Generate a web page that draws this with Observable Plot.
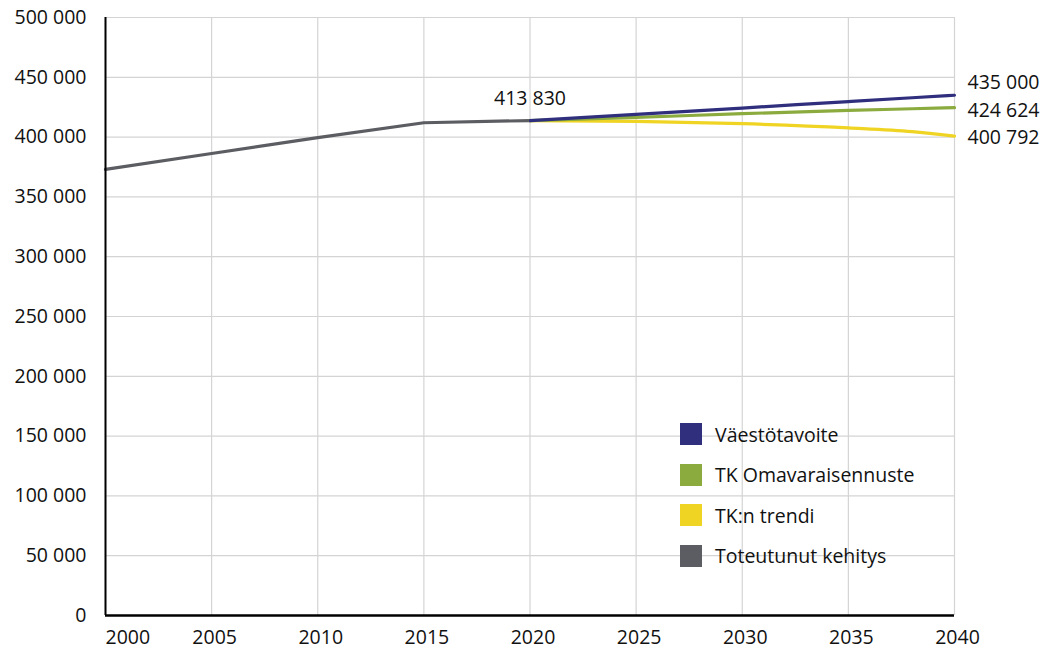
<!DOCTYPE html>
<html><head><meta charset="utf-8">
<script src="https://cdn.jsdelivr.net/npm/d3@7"></script>
<script src="https://cdn.jsdelivr.net/npm/@observablehq/plot@0.6"></script>
<style>
body{margin:0;background:#fff;font-family:"Open Sans",sans-serif;}
#wrap{position:relative;width:1045px;height:653px;}
#legend{position:absolute;left:680px;top:423px;font-size:19.5px;color:#111;}
.row{display:flex;align-items:center;height:22px;margin-bottom:18.5px;}
.sw{width:22px;height:22px;margin-right:13px;}
</style></head><body>
<div id="wrap"><div id="chart"></div><div id="legend"></div></div>
<script>
const actualYears = [2000, 2005, 2010, 2015, 2020];
const actualValues = [373000, 386300, 399500, 412000, 413830];
const projYears = [2020, 2025, 2030, 2035, 2038, 2040];
const targetValues = [413830, 419000, 424300, 429700, 432900, 435000];
const tkOwnValues = [413830, 416500, 419600, 422300, 423700, 424624];
const tkTrendValues = [413830, 413100, 411200, 407700, 404600, 400792];
const seriesNames = ["Väestötavoite", "TK Omavaraisennuste", "TK:n trendi", "Toteutunut kehitys"];
const seriesColors = ["#2f2f7e", "#8bab3f", "#f0d424", "#5c5d62"];
const yTicks = [0, 50000, 100000, 150000, 200000, 250000, 300000, 350000, 400000, 450000, 500000];
const xTicks = [2000, 2005, 2010, 2015, 2020, 2025, 2030, 2035, 2040];

const fmt = d => d3.format(",")(d).replace(/,/g, " ");
const actualRows = actualYears.map((y,i)=>({year:y,value:actualValues[i],s:seriesNames[3]}));
const projRows = [];
projYears.forEach((y,i)=>{
  projRows.push({year:y,value:tkTrendValues[i],s:seriesNames[2]});
  projRows.push({year:y,value:tkOwnValues[i],s:seriesNames[1]});
  projRows.push({year:y,value:targetValues[i],s:seriesNames[0]});
});
const last = projYears.length-1;
const endLabels = [
  {year:2040,value:targetValues[last],dy:-12},
  {year:2040,value:tkOwnValues[last],dy:3},
  {year:2040,value:tkTrendValues[last],dy:2}
];
const FS = 19.5;
const chart = Plot.plot({
  width:1045, height:653,
  marginLeft:105, marginTop:17, marginBottom:38, marginRight:91,
  style:{fontFamily:"Open Sans", fontSize:FS+"px", color:"#111", background:"#fff", overflow:"visible"},
  x:{domain:[2000,2040], label:null},
  y:{domain:[0,500000], label:null},
  color:{domain:seriesNames, range:seriesColors},
  marks:[
    Plot.gridX(xTicks,{stroke:"#d4d4d4",strokeOpacity:1,strokeWidth:1.2}),
    Plot.gridY(yTicks,{stroke:"#d4d4d4",strokeOpacity:1,strokeWidth:1.2}),
    Plot.axisY(yTicks,{tickSize:0,tickPadding:19,tickFormat:fmt,fontSize:FS,fill:"#111",label:null}),
    Plot.axisX([xTicks[0]],{tickSize:0,tickPadding:15,textAnchor:"start",tickFormat:d=>String(d),fontSize:FS,fill:"#111",dx:0,label:null}),
    Plot.axisX(xTicks.slice(1),{tickSize:0,tickPadding:15,tickFormat:d=>String(d),fontSize:FS,fill:"#111",dx:3,label:null}),
    Plot.line(actualRows,{x:"year",y:"value",z:"s",stroke:"s",strokeWidth:3.2}),
    Plot.line(projRows,{x:"year",y:"value",z:"s",stroke:"s",strokeWidth:3.2,curve:"monotone-x"}),
    Plot.ruleX([2000],{stroke:"#000",strokeWidth:2}),
    Plot.ruleY([0],{stroke:"#000",strokeWidth:2.5}),
    Plot.text([{year:2020,value:413830}],{x:"year",y:"value",text:d=>fmt(d.value),dy:-22,fontSize:FS,fill:"#111"}),
    ...endLabels.map(l=>Plot.text([l],{x:"year",y:"value",text:d=>fmt(d.value),dy:l.dy,dx:13,textAnchor:"start",fontSize:FS,fill:"#111"}))
  ]
});
document.getElementById("chart").appendChild(chart);
const leg = document.getElementById("legend");
seriesNames.forEach((n,i)=>{
  const r=document.createElement("div");r.className="row";
  r.innerHTML=`<div class="sw" style="background:${seriesColors[i]}"></div><span>${n}</span>`;
  leg.appendChild(r);
});
</script></body></html>
